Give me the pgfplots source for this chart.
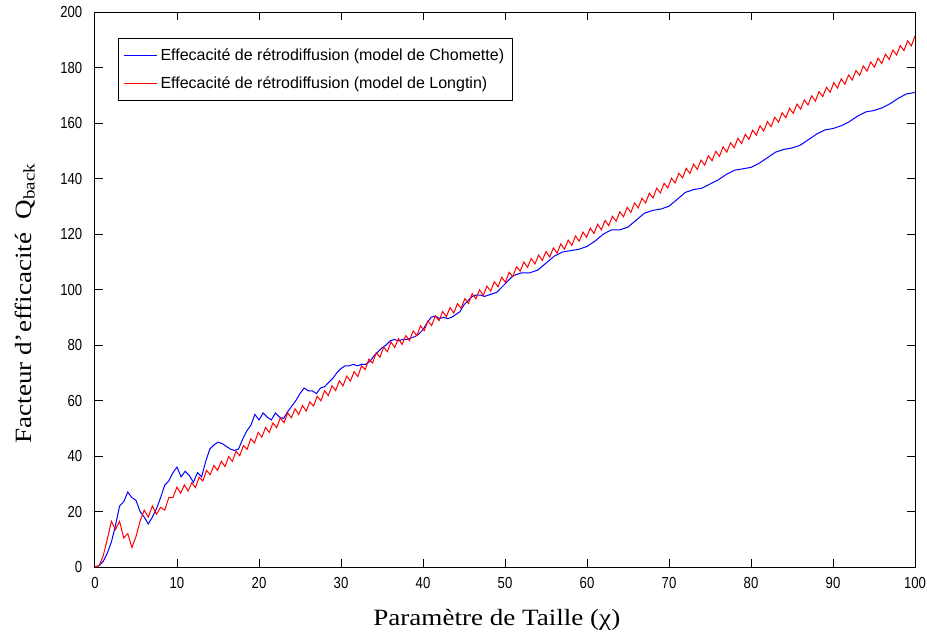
\documentclass[border=0pt]{standalone}
\usepackage{pgfplots}
\pgfplotsset{compat=1.18}
\usepackage{fontspec}
\setmainfont{Liberation Serif}
\newfontfamily\arial{Liberation Sans}
\newfontfamily\arialn{Liberation Sans}[FakeStretch=0.82]
\newfontfamily\timeswide{Liberation Serif}[FakeStretch=1.16]

\pgfplotstableread{
x y
0 0
0.5 0.5
1 2
1.5 5
2 9
2.5 15
3 22
3.5 23.5
4 27
4.5 25
5 24
5.5 20
6 18
6.5 15.5
7 18
7.5 21
8 25
8.5 29.5
9 31
9.5 34
10 36
10.5 32.5
11 34.5
11.5 33
12 30.5
12.5 34
13 32.5
13.5 38
14 42.5
14.5 44
15 45
15.5 44.5
16 43.5
16.5 42.5
17 42
17.5 42.5
18 46
18.5 49
19 51
19.5 55
20 53
20.5 55.5
21 54
21.5 53
22 55.5
22.5 54
23 53.5
23.5 56
24 58
24.5 60
25 62.5
25.5 64.5
26 63.5
26.5 63.5
27 62.5
27.5 64.5
28 65
28.5 66.5
29 68
29.5 70
30 71.5
30.5 72.5
31 72.5
31.5 73
32 72.5
32.5 73
33 73
33.5 74
34 76
34.5 77.5
35 79
35.5 80
36 81.5
36.5 82
37 81.5
37.5 82
38 82
38.5 82.5
39 83
39.5 84
40 85.5
40.5 88
41 90
41.5 90.5
42 89.5
42.5 90
43 89.5
43.5 90
44 91
44.5 92
45 94.5
45.5 96
46 97.5
46.5 98
47 98
47.5 97.5
48 98
48.5 98.5
49 99
49.5 100.5
50 102
50.5 103.5
51 105
52 106
53 106
54 107
55 109.5
56 112
57 113.5
58 114
59 114.5
60 115.5
61 117.5
62 120
63 121.5
64 121.5
65 122.5
66 125
67 127.5
68 128.5
69 129
70 130
71 132.5
72 135
73 136
74 136.5
75 138
76 139.5
77 141.5
78 143
79 143.5
80 144
81 145.5
82 147.5
83 149.5
84 150.5
85 151
86 152
87 154
88 156
89 157.5
90 158
91 159
92 160.5
93 162.5
94 164
95 164.5
96 165.5
97 167
98 169
99 170.5
100 171
}\chomette

\pgfplotstableread{
x y
0 0
0.5 0.5
1 4
1.5 10
2 16.5
2.5 13.5
3 16.5
3.5 10.5
4 12
4.5 7
5 11
5.5 16.5
6 20.5
6.5 18
7 22
7.5 19
8 21.5
8.5 20.5
9 25
9.5 25
10.00 28.8
10.45 26.6
10.90 29.6
11.35 27.4
11.80 30.4
12.25 28.6
12.70 32.4
13.15 31.0
13.60 34.8
14.05 33.3
14.50 36.6
14.95 34.8
15.40 38.1
15.85 36.2
16.30 39.8
16.75 38.1
17.20 41.7
17.65 40.1
18.10 43.8
18.55 42.4
19.00 46.2
19.45 44.7
19.90 48.5
20.35 46.8
20.80 50.3
21.25 48.5
21.70 51.9
22.15 50.2
22.60 53.7
23.05 52.0
23.50 55.5
23.95 53.8
24.40 57.0
24.85 55.0
25.30 58.2
25.75 56.2
26.20 59.5
26.65 58.0
27.10 61.5
27.55 59.9
28.00 63.5
28.45 61.8
28.90 65.3
29.35 63.6
29.80 67.1
30.25 65.3
30.70 68.8
31.15 67.0
31.60 70.4
32.05 68.6
32.50 72.5
32.95 71.1
33.40 74.9
33.85 73.5
34.30 77.2
34.75 75.6
35.20 79.2
35.65 77.6
36.10 81.1
36.55 79.1
37.00 82.3
37.45 80.2
37.90 83.4
38.35 81.6
38.80 85.1
39.25 83.4
39.70 86.9
40.15 85.2
40.60 88.7
41.05 87.0
41.50 90.5
41.95 88.8
42.40 92.1
42.85 90.2
43.30 93.5
43.75 91.5
44.20 94.9
44.65 93.2
45.10 96.7
45.55 95.0
46.00 98.5
46.45 96.6
46.90 99.9
47.35 97.9
47.80 101.2
48.25 99.4
48.70 102.8
49.15 101.0
49.60 104.4
50.05 102.6
50.50 106.2
50.95 104.6
51.40 108.2
51.85 106.6
52.30 109.9
52.75 108.0
53.20 111.2
53.65 109.2
54.10 112.4
54.55 110.5
55.00 113.7
55.45 111.7
55.90 115.0
56.35 113.1
56.80 116.4
57.25 114.5
57.70 117.8
58.15 115.9
58.60 119.3
59.05 117.4
59.50 120.7
59.95 118.8
60.40 122.1
60.85 120.2
61.30 123.5
61.75 121.5
62.20 124.9
62.65 123.0
63.10 126.4
63.55 124.6
64.00 128.0
64.45 126.2
64.90 129.6
65.35 127.8
65.80 131.2
66.25 129.4
66.70 132.9
67.15 131.2
67.60 134.7
68.05 133.0
68.50 136.5
68.95 134.8
69.40 138.3
69.85 136.6
70.30 140.1
70.75 138.4
71.20 141.9
71.65 140.2
72.10 143.7
72.55 141.8
73.00 145.2
73.45 143.3
73.90 146.6
74.35 144.8
74.80 148.2
75.25 146.4
75.70 149.8
76.15 148.0
76.60 151.4
77.05 149.5
77.50 152.9
77.95 151.1
78.40 154.5
78.85 152.6
79.30 155.9
79.75 154.1
80.20 157.4
80.65 155.6
81.10 159.0
81.55 157.1
82.00 160.5
82.45 158.7
82.90 162.1
83.35 160.3
83.80 163.7
84.25 161.9
84.70 165.3
85.15 163.5
85.60 166.8
86.05 165.0
86.50 168.3
86.95 166.5
87.40 169.8
87.85 167.9
88.30 171.3
88.75 169.5
89.20 172.9
89.65 171.1
90.10 174.5
90.55 172.6
91.00 175.9
91.45 174.0
91.90 177.3
92.35 175.5
92.80 178.9
93.25 177.2
93.70 180.6
94.15 178.7
94.60 182.0
95.05 180.1
95.50 183.4
95.95 181.4
96.40 184.8
96.85 182.9
97.30 186.3
97.75 184.5
98.20 187.9
98.65 186.1
99.10 189.6
99.55 187.8
100.00 191.3
}\longtin

\begin{document}
\begin{tikzpicture}
\path[use as bounding box] (-71.25pt,-52.5pt) rectangle (624pt,425.25pt);
\begin{axis}[
  at={(0pt,0pt)}, anchor=south west,
  scale only axis, width=615pt, height=416.25pt,
  xmin=0, xmax=100, ymin=0, ymax=200,
  xtick={0,10,...,100}, ytick={0,20,...,200},
  tick pos=both, tick align=inside, major tick length=6pt,
  tick style={black, line width=0.75pt},
  axis line style={black, line width=0.75pt},
  /pgf/number format/assume math mode=true,
  ticklabel style={font=\arialn\fontsize{12}{14}\selectfont},
  yticklabel style={xshift=-6pt},
  xticklabel style={yshift=-4pt},
  xlabel={Paramètre de Taille (χ)},
  ylabel={Facteur d’efficacité\ \ Q\textsubscript{back}},
  label style={font=\timeswide\fontsize{17.5}{21}\selectfont},
  xlabel style={at={(axis description cs:0.490,-0.0955)}, anchor=center},
  ylabel style={at={(axis description cs:-0.0854,0.475)}, anchor=center},
  legend style={at={(axis description cs:0.028,0.953)}, anchor=north west,
    font=\arial\fontsize{12}{14}\selectfont,
    inner xsep=4pt, inner ysep=5.5pt, row sep=7pt},
  legend cell align=left,
  legend image code/.code={\draw[#1, line width=0.75pt] (0pt,0pt) -- (25pt,0pt);},
]
\addplot[blue, line width=0.75pt] table[x=x,y=y] {\chomette};
\addlegendentry{Effecacité de rétrodiffusion (model de Chomette)}
\addplot[red, line width=0.75pt] table[x=x,y=y] {\longtin};
\addlegendentry{Effecacité de rétrodiffusion (model de Longtin)}
\end{axis}
\end{tikzpicture}
\end{document}
